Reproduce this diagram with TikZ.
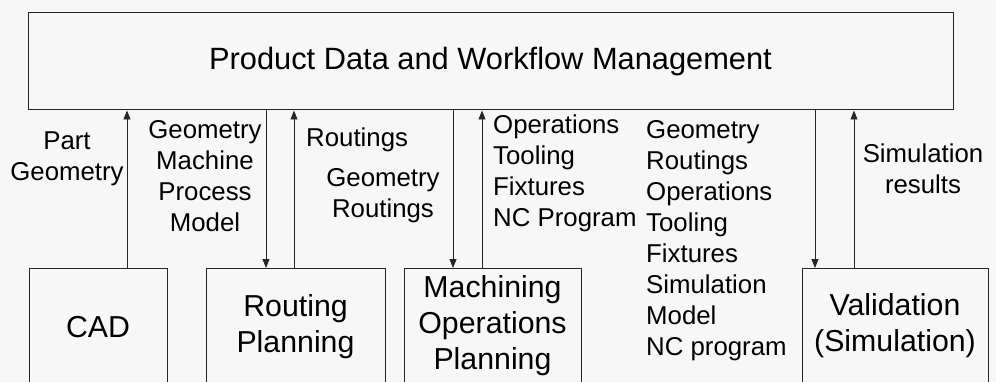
\documentclass[tikz,border=0pt]{standalone}
\usepackage{fontspec}
\setmainfont{Liberation Sans}
\usetikzlibrary{arrows.meta}

\tikzset{
  frame/.style={draw=black!85, line width=1pt, inner sep=0pt},
  flow/.style={draw=black!85, line width=0.8pt, -{Triangle[length=9pt,width=7pt]}},
  lbl/.style={inner sep=0pt, font=\fontsize{25.8pt}{31pt}\selectfont},
  boxtext/.style={inner sep=0pt, align=center, font=\fontsize{30.3pt}{36pt}\selectfont},
}

\begin{document}
\begin{tikzpicture}[x=1pt, y=-1pt]
  \useasboundingbox (0,0) rectangle (996,382);
  \clip (0,0) rectangle (996,382);
  \fill[black!3] (0,0) rectangle (996,382);

  % data management layer
  \node[frame, minimum width=925pt, minimum height=97pt,
        font=\fontsize{30.8pt}{36pt}\selectfont] (pdm) at (490.5,61.5)
        {Product Data and Workflow Management};

  % application boxes, running off the lower edge
  \node[frame, anchor=north, minimum width=138pt, minimum height=150pt] (cad) at (98,268) {};
  \node[frame, anchor=north, minimum width=179pt, minimum height=150pt] (rp)  at (295.5,268) {};
  \node[frame, anchor=north, minimum width=177pt, minimum height=150pt] (mop) at (492.5,268) {};
  \node[frame, anchor=north, minimum width=186pt, minimum height=150pt] (val) at (895,268) {};

  \node[boxtext] (cadt) at (98,327) {CAD};
  \node[boxtext] (rpt)  at (295.5,327) {Routing\\Planning};
  \node[boxtext] (mopt) at (492.5,326) {Machining\\Operations\\Planning};
  \node[boxtext] (valt) at (895,326) {Validation\\(Simulation)};

  % exchanges with the data management layer
  \draw[flow] ([xshift=29pt]cad.north) -- ([xshift=29pt]cad.north |- pdm.south);
  \draw[flow] ([xshift=-29.5pt]rp.north |- pdm.south) -- ([xshift=-29.5pt]rp.north);
  \draw[flow] ([xshift=-1.5pt]rp.north) -- ([xshift=-1.5pt]rp.north |- pdm.south);
  \draw[flow] ([xshift=-39.5pt]mop.north |- pdm.south) -- ([xshift=-39.5pt]mop.north);
  \draw[flow] ([xshift=-10.5pt]mop.north) -- ([xshift=-10.5pt]mop.north |- pdm.south);
  \draw[flow] ([xshift=-80pt]val.north |- pdm.south) -- ([xshift=-80pt]val.north);
  \draw[flow] ([xshift=-41pt]val.north) -- ([xshift=-41pt]val.north |- pdm.south);

  % data labels
  \node[lbl, align=center] (l1) at (67,159) {Part\\Geometry};
  \node[lbl, align=center] (l2) at (205,176) {Geometry\\Machine\\Process\\Model};
  \node[lbl, anchor=west]  (l3) at (306,140) {Routings};
  \node[lbl, align=center] (l4) at (383,196) {Geometry\\Routings};
  \node[lbl, align=left, anchor=west] (l5) at (493,173) {Operations\\Tooling\\Fixtures\\NC Program};
  \node[lbl, align=left, anchor=west] (l6) at (646,241) {Geometry\\Routings\\Operations\\Tooling\\Fixtures\\Simulation\\Model\\NC program};
  \node[lbl, align=center] (l7) at (923,169) {Simulation\\results};
\end{tikzpicture}
\end{document}
